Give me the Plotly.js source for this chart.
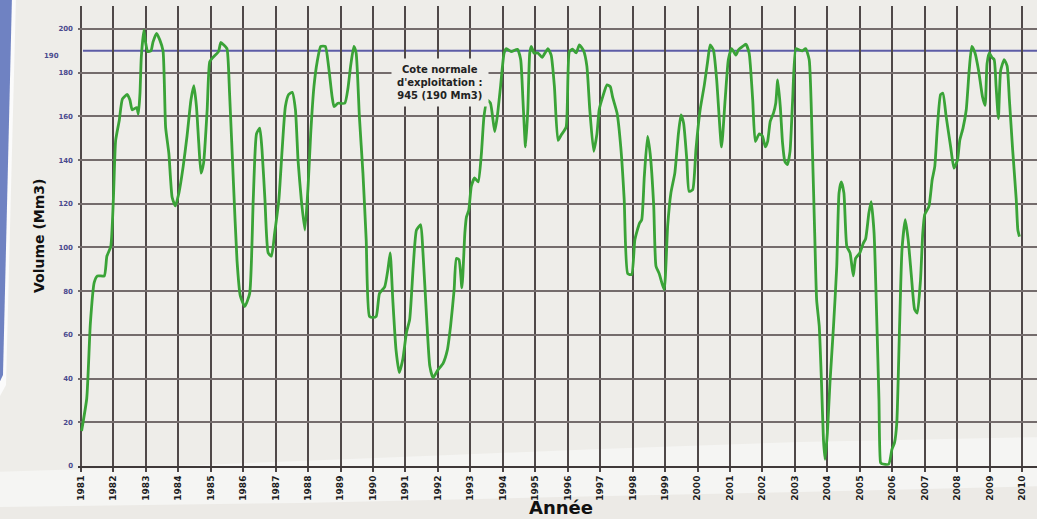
<!DOCTYPE html>
<html>
<head>
<meta charset="utf-8">
<script src="https://cdn.plot.ly/plotly-3.0.1.min.js"></script>
<style>html,body{margin:0;padding:0;background:#eeede9;}#chart{width:1037px;height:519px;}</style>
</head>
<body>
<div id="chart"></div>
<script>
// Decimal year of each reading
const years = [
1981.02,1981.18,1981.29,1981.41,1981.51,1981.72,1981.80,1981.92,1982.00,1982.07,1982.18,1982.28,1982.43,1982.51,1982.58,1982.72,1982.77,1982.82,1982.86,1982.94,1982.99,
1983.06,1983.16,1983.22,1983.33,1983.43,1983.53,1983.61,1983.71,1983.81,1983.91,1984.02,1984.15,1984.27,1984.39,1984.48,1984.56,1984.63,1984.70,1984.78,1984.89,1984.97,
1985.07,1985.24,1985.31,1985.40,1985.50,1985.58,1985.70,1985.81,1985.91,1986.05,1986.20,1986.31,1986.41,1986.51,1986.58,1986.67,1986.77,1986.87,1986.97,
1987.10,1987.20,1987.30,1987.40,1987.51,1987.61,1987.69,1987.79,1987.90,1988.00,1988.08,1988.18,1988.28,1988.39,1988.53,1988.63,1988.74,1988.80,1988.92,
1989.13,1989.23,1989.31,1989.41,1989.48,1989.58,1989.69,1989.79,1989.89,1990.00,1990.10,1990.20,1990.36,1990.46,1990.53,1990.61,1990.71,1990.81,1990.92,
1991.03,1991.13,1991.24,1991.34,1991.47,1991.54,1991.65,1991.75,1991.85,1992.00,1992.16,1992.29,1992.39,1992.50,1992.57,1992.65,1992.74,1992.83,1992.88,1992.95,
1993.03,1993.13,1993.24,1993.34,1993.42,1993.52,1993.62,1993.75,1993.83,1993.93,1994.04,1994.11,1994.26,1994.45,1994.55,1994.62,1994.70,1994.77,1994.83,1994.88,1994.96,
1995.08,1995.21,1995.39,1995.49,1995.59,1995.70,1995.80,1995.95,1996.05,1996.15,1996.26,1996.36,1996.49,1996.59,1996.68,1996.80,1996.90,1996.97,
1997.08,1997.21,1997.31,1997.38,1997.52,1997.64,1997.74,1997.85,1997.97,1998.07,1998.21,1998.28,1998.36,1998.46,1998.54,1998.65,1998.72,1998.82,1998.97,
1999.08,1999.18,1999.30,1999.41,1999.49,1999.57,1999.67,1999.74,1999.85,1999.95,2000.08,2000.21,2000.31,2000.39,2000.49,2000.59,2000.74,2000.85,2000.95,
2001.05,2001.18,2001.26,2001.39,2001.49,2001.59,2001.70,2001.78,2001.90,2002.00,2002.09,2002.16,2002.24,2002.34,2002.41,2002.47,2002.55,2002.62,2002.69,2002.77,2002.85,2002.93,
2003.03,2003.13,2003.23,2003.33,2003.44,2003.54,2003.61,2003.67,2003.75,2003.82,2003.88,2003.93,2004.00,2004.08,2004.19,2004.29,2004.36,2004.43,2004.51,2004.60,2004.70,2004.80,2004.87,
2005.00,2005.11,2005.18,2005.28,2005.35,2005.44,2005.52,2005.59,2005.64,2005.68,2005.89,2005.99,2006.07,2006.14,2006.22,2006.30,2006.40,2006.49,2006.59,2006.69,2006.77,2006.87,2006.94,
2007.00,2007.13,2007.23,2007.31,2007.39,2007.49,2007.56,2007.66,2007.80,2007.90,2008.01,2008.08,2008.18,2008.28,2008.37,2008.45,2008.55,2008.66,2008.78,2008.86,2008.92,2008.99,
2009.07,2009.14,2009.20,2009.27,2009.34,2009.45,2009.54,2009.61,2009.71,2009.82,2009.87,2009.92
];
// Volume (Mm3)
const volumes = [
16,31,65,84,87,87,96,100.5,122,149,158,168,170,167.5,163,164,161,170.6,187,199.5,194,
189.6,190,194,198,195,190,155,143,123,119,125,137,151,167.5,174,164.5,148,134,138.6,163,185,
187,189.6,193.8,192.7,191,170.6,129.5,94,78,73,79,122,152,154.6,144.7,122,97.5,96,106.6,
122,144.7,164.5,170,171,163,140,122,108,128,152,173.6,185,192,192,183,169,164.5,166,
166,173,183,192,189,160,134,103.6,68.5,68,68.5,79,82,90,97.5,76,53,42.7,49,
61,67,91.4,108,110.4,97.5,68.5,45.7,40.4,44,47,53,64,80.7,95,94.4,81.5,106.6,114,117,
128,131.8,130,143,160,167.5,166,153,160,173.6,189,191,189.6,190.7,186,167.5,146,163,189,192,189,
189,187,191,188,173.6,149,151.5,155,189.6,190.7,189,192.7,190,183,163,144,152,163,
169,174.4,173.6,169,161.5,145,122,88,87.6,103.6,111,112.7,132.5,150.8,143,119,91.4,88,80.7,
110,125,134,152,160.7,157,140,125.7,126.4,144.7,163,174.4,185,192.7,190.4,176.7,146,167.5,186,
191,188,190.4,192,193,189,167.5,148.5,152,151,146,148.5,157.7,161.5,166,176.7,164.5,147.7,139.4,137.9,144,167.5,
191,190.4,190,191,186,144.7,106.6,76,64,38,12,3,15,38,64,91.4,125,130,125,100.5,97.5,87,95,
97.5,102,104,115.8,121,106.6,68.5,30.5,1.5,1,0.8,7.6,10.7,19.8,61,99,112.7,103.6,86.8,71.6,70,85,106.6,
115,118.8,131,137,155,170,170.6,160,146,136.3,140,149,154.6,163,181,192,189,181,169,165,184,189,
187,186,173.6,159,181,186,183,167.5,144.7,122,108,105
];
const tickYears = [1981,1982,1983,1984,1985,1986,1987,1988,1989,1990,1991,1992,1993,1994,1995,1996,1997,1998,1999,2000,2001,2002,2003,2004,2005,2006,2007,2008,2009,2010];
const yTicks = [0,20,40,60,80,100,120,140,160,180,200];
const normalLevel = 190;
const normalLabel = "190";
const noteText = "Cote normale<br>d'exploitation :<br>945 (190 Mm3)";
const xTitle = "Année";
const yTitle = "Volume (Mm3)";

// layout geometry helpers (pixel -> paper)
const W = 1037, H = 519, ML = 78, MR = 0, MT = 6, MB = 53;
const PW = W - ML - MR, PH = H - MT - MB;
const px = v => (v - ML) / PW;
const py = v => (H - MB - v) / PH;
const path = pts => 'M ' + pts.map(p => px(p[0]).toFixed(5) + ',' + py(p[1]).toFixed(5)).join(' L ') + ' Z';

const boldFont = (size, color) => ({family: 'DejaVu Sans, Arial, sans-serif', size: size, color: color, weight: 'bold'});

const trace = {
  x: years, y: volumes, type: 'scatter', mode: 'lines',
  line: {color: '#3aa337', width: 2.8, shape: 'spline', smoothing: 0.5},
  hoverinfo: 'x+y', showlegend: false
};

const layout = {
  width: W, height: H,
  margin: {l: ML, r: MR, t: MT, b: MB, pad: 0},
  paper_bgcolor: '#eeede9',
  plot_bgcolor: 'rgba(0,0,0,0)',
  showlegend: false,
  xaxis: {
    range: [1980.91, 2010.46],
    tickmode: 'array', tickvals: tickYears, ticktext: tickYears.map(String),
    tickangle: -90, tickfont: boldFont(9, '#1c1c1c'),
    ticks: 'outside', ticklen: 4, tickwidth: 2, tickcolor: '#4a4444',
    showgrid: true, gridcolor: '#4f4848', gridwidth: 2,
    showline: true, linecolor: '#3f3939', linewidth: 2,
    zeroline: false, fixedrange: true
  },
  yaxis: {
    range: [0, 210.5],
    tickmode: 'array', tickvals: yTicks, ticktext: yTicks.map(String),
    tickfont: boldFont(7, '#4a4a8e'),
    ticks: '', ticklabelstandoff: 4,
    showgrid: true, gridcolor: '#746c6c', gridwidth: 2,
    showline: false, zeroline: false, fixedrange: true
  },
  shapes: [
    {type: 'path', xref: 'paper', yref: 'paper', layer: 'below', line: {width: 0},
     fillcolor: '#f5f5f3',
     path: path([[-5,472],[150,467],[300,461],[450,455],[600,449],[800,442],[1045,437],[1045,525],[-5,525]])},
    {type: 'path', xref: 'paper', yref: 'paper', layer: 'below', line: {width: 0},
     fillcolor: '#eceae6',
     path: path([[-5,507],[300,503],[560,497],[800,492],[1045,486],[1045,525],[-5,525]])},
    {type: 'path', xref: 'paper', yref: 'paper', layer: 'below', line: {width: 0},
     fillcolor: '#fbfbfb',
     path: path([[-5,-5],[16,-5],[6,385],[-5,405]])},
    {type: 'path', xref: 'paper', yref: 'paper', layer: 'below', line: {width: 0},
     fillcolor: '#6f82c2',
     path: path([[-5,-5],[12,-5],[3,375],[-5,392]])},
    {type: 'line', xref: 'paper', yref: 'y', layer: 'between',
     x0: px(83), x1: 1, y0: normalLevel, y1: normalLevel,
     line: {color: '#5d5ca6', width: 2}}
  ],
  annotations: [
    {xref: 'x', yref: 'y', x: 1992.06, y: 175.7, text: noteText, showarrow: false,
     font: boldFont(10, '#222222'), align: 'center', bgcolor: '#eeede9', borderpad: 5},
    {xref: 'paper', yref: 'y', x: px(51), y: 187.6, text: normalLabel, showarrow: false,
     font: boldFont(7, '#4a4a8e'), xanchor: 'center', yanchor: 'middle'},
    {xref: 'paper', yref: 'paper', x: px(39), y: py(236), text: yTitle, textangle: -90, showarrow: false,
     font: boldFont(14, '#111111'), xanchor: 'center', yanchor: 'middle'},
    {xref: 'paper', yref: 'paper', x: px(561), y: py(507), text: xTitle, showarrow: false,
     font: boldFont(18, '#111111'), xanchor: 'center', yanchor: 'middle', borderpad: 0}
  ]
};

Plotly.newPlot('chart', [trace], layout, {displayModeBar: false, staticPlot: true});
</script>
</body>
</html>
